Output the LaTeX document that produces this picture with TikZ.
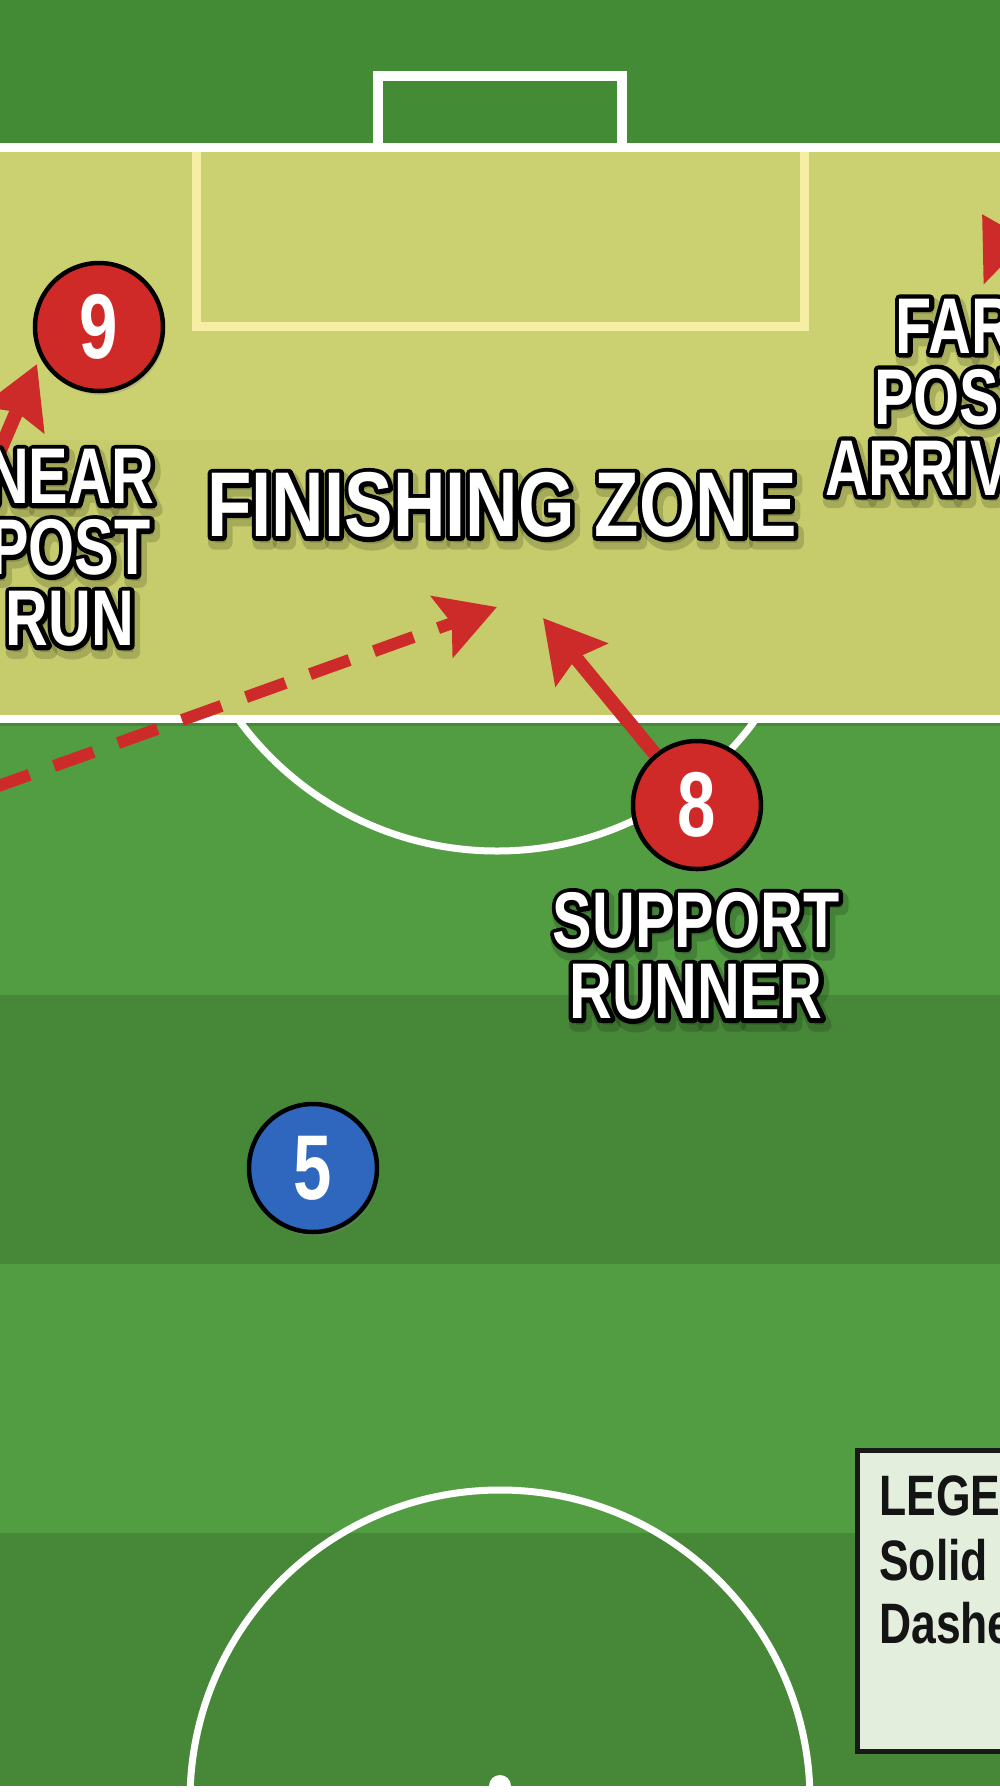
\documentclass[tikz,border=0pt]{standalone}
\usepackage{fontspec}
\setmainfont{Liberation Sans}[FakeStretch=0.75]
\newfontfamily\bigfont{Liberation Sans}[FakeStretch=0.79]
\newfontfamily\legfont{Liberation Sans}[FakeStretch=0.78]
\usetikzlibrary{arrows.meta,calc,shadows}
\definecolor{gtop}{HTML}{438B35}
\definecolor{gdark}{HTML}{468838}
\definecolor{glight}{HTML}{529D42}
\definecolor{zoneA}{HTML}{CBD171}
\definecolor{zoneB}{HTML}{C6CC6B}
\definecolor{sixyd}{HTML}{F6EFA3}
\definecolor{pred}{HTML}{D02A28}
\definecolor{pblue}{HTML}{2F67BE}
\definecolor{arrred}{HTML}{CD2B29}
\definecolor{legfill}{HTML}{E4EEDD}
\tikzset{
  pline/.style={draw=white, line width=9pt},
  player/.style={circle, minimum size=128pt, inner sep=0pt, draw=black, line width=4.5pt,
    text=white, font=\fontsize{92}{92}\selectfont\bfseries,
    drop shadow={shadow xshift=2pt, shadow yshift=-4pt, opacity=0.3}},
  lbl/.style={align=center, inner sep=0pt, font=\fontsize{79}{71}\selectfont\bfseries},
  biglbl/.style={align=center, inner sep=0pt, font=\bigfont\fontsize{92}{92}\selectfont\bfseries},
  legtxt/.style={inner sep=0pt, text=black!92, font=\legfont\fontsize{57}{64}\selectfont\bfseries},
  run/.style={draw=arrred, line width=14pt, -{Stealth[length=60pt, width=66pt, inset=8pt]}, arrred},
  pass/.style={draw=arrred, line width=12pt, dash pattern=on 42pt off 26pt,
    -{Stealth[length=58pt, width=64pt, inset=10pt]}, arrred},
}
% outlined text: stroked copy (black) under a plain white copy
\newcommand\strk[2]{\special{pdf:literal direct 2 Tr #1 w 1 j}#2\special{pdf:literal direct 0 Tr}}
\newcommand\olabel[4]{%
  \node[#2, text=black, opacity=0.16] at ($(#3)+(3,6)$) {\strk{14}{#4}};
  \node[#2, text=black] at (#3) {\strk{9}{#4}};
  \node[#2, text=white] (#1) at (#3) {#4};}
\begin{document}
\begin{tikzpicture}[x=1pt, y=-1pt]
\useasboundingbox (0,0) rectangle (1000,1792);
\clip (0,0) rectangle (1000,1792);
% grass stripes
\fill[gtop] (0,0) rectangle (1000,188);
\fill[glight] (0,188) rectangle (1000,440);
\fill[gdark] (0,440) rectangle (1000,726);
\fill[glight] (0,726) rectangle (1000,995);
\fill[gdark] (0,995) rectangle (1000,1264);
\fill[glight] (0,1264) rectangle (1000,1533);
\fill[gdark] (0,1533) rectangle (1000,1792);
% finishing zone
\fill[zoneA] (0,147) rectangle (1000,440);
\fill[zoneB] (0,440) rectangle (1000,719);
% six-yard box
\draw[draw=sixyd, line width=9pt] (196,147) -- (196,326) -- (804,326) -- (804,147);
% goal
\draw[pline, line width=10pt, line join=miter] (378,147) -- (378,76) -- (622,76) -- (622,147);
% goal line and zone edge
\draw[pline] (0,147) -- (1000,147);
\draw[pline, line width=8pt] (0,719) -- (1000,719);
% penalty arc
\begin{scope}
  \clip (0,719) rectangle (1000,1000);
  \draw[pline, line width=7pt] (497,531) circle[radius=320];
\end{scope}
% centre circle, halfway line, spot
\draw[pline, line width=7pt] (500,1800) circle[radius=310];
\draw[pline, line width=7pt] (0,1789) -- (1000,1789);
\fill[white] (500,1786) circle[radius=11];
% legend
\draw[fill=legfill, draw=black!90, line width=5pt] (857,1450) rectangle (1020,1751);
\node[legtxt, anchor=base west] (lg1) at (879,1515) {LEGEND};
\node[legtxt, anchor=base west] (lg2) at (879,1580) {Solid Arrow};
\node[legtxt, anchor=base west] (lg3) at (879,1643) {Dashed Arrow};
% players
\node[player, fill=pred] (n9) at (99,327) {9};
\node[player, fill=pred] (n8) at (697,805) {8};
\node[player, fill=pblue] (n5) at (313,1168) {5};
% arrows
\coordinate (s9) at (-30,520);
\coordinate (t9) at (37,364);
\draw[run] (s9) -- (t9);
\coordinate (t8) at (543,618);
\draw[run] (n8) -- (t8);
\coordinate (sd) at (-10,789);
\coordinate (td) at (497,607);
\draw[pass] (sd) -- (td);
\coordinate (sf) at (1060,345);
\coordinate (tf) at (982,214);
\draw[run] (sf) -- (tf);
% labels
\olabel{lnear}{lbl}{70,548}{NEAR\\POST\\RUN}
\olabel{lfar}{lbl}{955,397}{FAR\\POST\\ARRIVAL}
\olabel{lsup}{lbl}{696,956}{SUPPORT\\RUNNER}
\olabel{lzone}{biglbl}{502,505}{FINISHING ZONE}
\end{tikzpicture}
\end{document}
